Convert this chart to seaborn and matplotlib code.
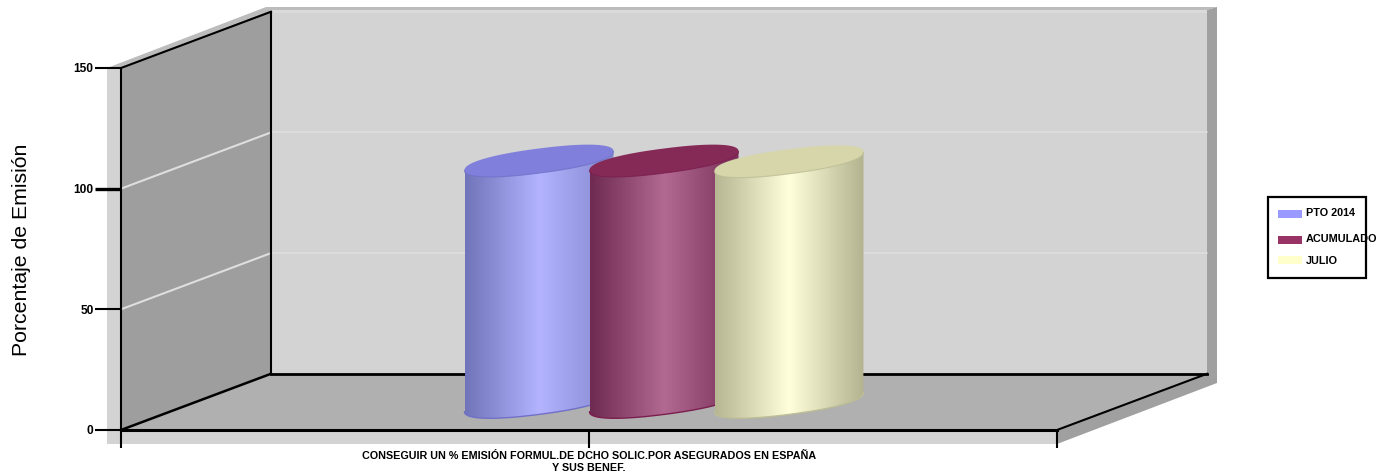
import numpy as np
import pandas as pd
import matplotlib
matplotlib.use("Agg")
import matplotlib.pyplot as plt
from matplotlib.patches import Polygon, Rectangle, PathPatch
from matplotlib.path import Path
from matplotlib.transforms import Affine2D
import seaborn as sns

# ---- data ----
categories = ["CONSEGUIR UN % EMISIÓN FORMUL.DE DCHO SOLIC.POR ASEGURADOS EN ESPAÑA\nY SUS BENEF."]
series = ["PTO 2014", "ACUMULADO", "JULIO"]
values = [100, 100, 99.7]
y_ticks = [0, 50, 100, 150]
y_title = "Porcentaje de Emisión"

# ---- style ----
base_colors = ["#9999FF", "#993366", "#FFFFCC"]
edge_left = ["#7074B8", "#6E2A50", "#B6B692"]
edge_right = ["#8487CE", "#7A3058", "#B3B390"]
peak = ["#B3B3FF", "#B26A92", "#FFFFDC"]
cap = ["#8080DC", "#852957", "#D6D6AA"]
rim = ["#7070C8", "#7A1E4E", "#BDBD96"]

W, H = 1399, 476
sns.set_theme(style="white")
plt.rcParams["font.family"] = ["Liberation Sans", "DejaVu Sans"]

fig = plt.figure(figsize=(W / 100, H / 100), dpi=100, facecolor="white")
ax = fig.add_axes([121 / W, (H - 430) / H, 936 / W, 362 / H])
ax.patch.set_visible(False)
ax.set_zorder(1)

df = pd.DataFrame({"objetivo": categories * len(series), "serie": series, "valor": values})
sns.barplot(data=df, x="objetivo", y="valor", hue="serie", hue_order=series,
            palette=base_colors, saturation=1, width=125 * 3 / 936, gap=0,
            legend=False, ax=ax)
ax.set_xlim(-0.5, 0.5)
ax.set_ylim(0, 150)

# ---- 3-D box (decoration, in image pixels, y down) ----
pix = Affine2D().scale(1, -1).translate(0, H)
def wall(points, color, z=0.1):
    fig.add_artist(Polygon(points, closed=True, facecolor=color, edgecolor="none",
                           transform=pix, zorder=z))
wall([(107, 68), (121, 68), (121, 430), (1057, 430), (1057, 444), (107, 444)], "#D3D3D3")
wall([(107, 68), (266, 7), (1217, 7), (1207, 10), (271, 10), (121, 68)], "#BCBCBC")
wall([(271, 10), (1207, 10), (1207, 374), (271, 374)], "#D3D3D3")
wall([(271, 10), (1207, 10), (1207, 13), (271, 13)], "#DADADA")
wall([(1057, 430), (1207, 374), (1207, 10), (1217, 7), (1217, 383), (1057, 444)], "#A0A0A0")
wall([(121, 68), (271, 10), (271, 374), (121, 430)], "#9E9E9E")
wall([(121, 430), (271, 374), (1207, 374), (1057, 430)], "#B0B0B0")

# depth of the box in data units
DX = 150 / 936
DY = 23.3
for v in (50, 100):
    ax.plot([-0.5, -0.5 + DX], [v, v + DY], color="#DEDEDE", lw=1.5, clip_on=False, zorder=1)
    ax.plot([-0.5 + DX, 0.5 + DX], [v + DY, v + DY], color="#DEDEDE", lw=1.2, clip_on=False, zorder=1)
# black box edges
edge = dict(color="black", clip_on=False, zorder=1.5, solid_capstyle="projecting")
ax.plot([-0.5, -0.5 + DX], [150, 150 + DY], lw=1.5, **edge)
ax.plot([-0.5 + DX, -0.5 + DX], [0 + DY, 150 + DY], lw=1.5, **edge)
ax.plot([-0.5, -0.5 + DX], [0, DY], lw=1.8, **edge)
ax.plot([-0.5 + DX, 0.5 + DX], [DY, DY], lw=2.0, **edge)
ax.plot([0.5, 0.5 + DX], [0, DY], lw=1.5, **edge)

# ---- cylinders built on the seaborn bars ----
px_y = 150 / 362
def fat(v, p=0.88):
    return np.sign(v) * np.abs(v) ** p
t = np.linspace(0, 2 * np.pi, 360)
bars = list(ax.patches)
for i, bar in enumerate(bars):
    bar.set_x(bar.get_x() + DX / 2)
    bar.set_y(DY / 2 - 0.1)
    bar.set_zorder(2 + i)
    cx = bar.get_x() + bar.get_width() / 2
    hw = bar.get_width() / 2 * 149 / 125
    y_bot = bar.get_y()
    y_top = y_bot + bar.get_height()
    B, C = 9.5 * px_y, 12.3 * px_y
    ex = cx + hw * fat(np.cos(t))
    ey = B * fat(np.cos(t)) + C * fat(np.sin(t))
    low = np.linspace(0, -np.pi, 180)
    lx = cx + hw * fat(np.cos(low))
    ly = B * fat(np.cos(low)) + C * fat(np.sin(low))
    verts = np.vstack([[cx + hw, y_top + B], np.c_[lx, ly + y_bot],
                       [cx - hw, y_top - B], [cx + hw, y_top + B]])
    clip = PathPatch(Path(verts), transform=ax.transData, facecolor="none", edgecolor="none")
    ax.add_patch(clip)
    bar.set_clip_path(clip)
    stops = [0, 0.5, 1]
    cols = np.array([matplotlib.colors.to_rgb(c) for c in (edge_left[i], peak[i], edge_right[i])])
    s = np.linspace(0, 1, 256)
    grad = np.stack([np.interp(s, stops, cols[:, k]) for k in range(3)], axis=-1)[None, :, :]
    im = ax.imshow(grad, extent=[cx - hw, cx + hw, y_bot - 20, y_top + 20], aspect="auto",
                   interpolation="bilinear", zorder=2 + i + 0.1)
    im.set_clip_path(clip)
    ax.plot(lx, ly + y_bot, color=rim[i], lw=1.0, zorder=2 + i + 0.2)
    ax.fill(ex, ey + y_top, color=cap[i], lw=0, zorder=2 + i + 0.3)
    ax.plot(lx, ly + y_top, color=rim[i], lw=0.8, alpha=0.8, zorder=2 + i + 0.35)
ax.set_xlim(-0.5, 0.5)
ax.set_ylim(0, 150)

# ---- axes, ticks and text ----
sns.despine(ax=ax, top=True, right=True)
for name, lw in (("left", 1.5), ("bottom", 2.2)):
    ax.spines[name].set_linewidth(lw)
    ax.spines[name].set_color("black")
    ax.spines[name].set_zorder(1.6)

ax.set_yticks(y_ticks)
ax.set_yticklabels([str(v) for v in y_ticks], fontsize=8.6, fontweight="bold", color="black")
ax.tick_params(axis="y", left=True, length=18.7, width=1.5, pad=1, color="black")
ax.yaxis.get_major_ticks()[2].tick1line.set_markeredgewidth(2.4)
ax.set_xticks([-0.5, 0, 0.5])
ax.set_xticklabels(["", categories[0], ""], fontsize=7.72, fontweight="bold", color="black", linespacing=1.25)
ax.tick_params(axis="x", bottom=True, length=13, width=1.5, pad=2.2, color="black")
ax.set_xlabel("")
ax.set_ylabel(y_title, fontsize=15.3, color="black")
ax.yaxis.set_label_coords((31 - 121) / 936, (430 - 250) / 362)

# ---- legend box (uneven rows, as in the reference) ----
fig.add_artist(Rectangle((1267.5, 196.5), 98, 81, facecolor="white", edgecolor="black",
                         lw=1.6, transform=pix, zorder=5))
for name, color, row_y, text_y in zip(series, base_colors, (214, 240, 260), (213.5, 239.5, 260.5)):
    fig.add_artist(Rectangle((1278, row_y - 4), 24, 8, facecolor=color, edgecolor="none",
                             transform=pix, zorder=6))
    fig.text(1306 / W, 1 - text_y / H, name, fontsize=7.8, fontweight="bold", color="black",
             va="center", ha="left", zorder=6)

fig.savefig("out.png", dpi=100, facecolor="white")
